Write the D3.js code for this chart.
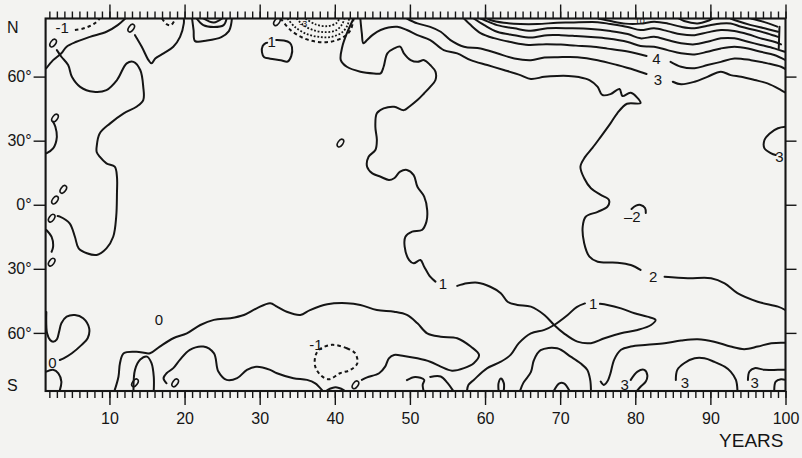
<!DOCTYPE html>
<html>
<head>
<meta charset="utf-8">
<script src="https://d3js.org/d3.v7.min.js"></script>
<style>
  body { margin: 0; background: #f3f3f1; }
  svg { display: block; font-family: "Liberation Sans", Arial, sans-serif; }
  .frame { fill: none; stroke: #151515; stroke-width: 2.1; }
  .axis path { display: none; }
  .axis line { stroke: #151515; stroke-width: 1.4; }
  .axis text { fill: #151515; font-size: 16px; font-family: "Liberation Sans", Arial, sans-serif; }
  .contour { fill: none; stroke: #151515; stroke-width: 2; stroke-linejoin: round; stroke-linecap: round; }
  .neg { stroke-dasharray: 3.5 3; stroke-linecap: butt; }
  .dots { stroke-width: 1.8; stroke-dasharray: 1.8 1.8; stroke-linecap: butt; }
  .oval { fill: none; stroke: #151515; stroke-width: 1.6; }
  .clabel { fill: #151515; font-size: 15px; text-anchor: middle; dominant-baseline: central; }
  .slabel { fill: #151515; font-size: 9px; text-anchor: middle; dominant-baseline: central; }
</style>
</head>
<body>
<svg id="chart" width="802" height="458"></svg>
<script>
// axes
var yearDomain = [1.5, 100]
var latDomain = [-87.2, 87.2]
var yearTicks = [10, 20, 30, 40, 50, 60, 70, 80, 90, 100]
var latTicks = [60, 30, 0, -30, -60]
var latLabels = ["60°", "30°", "0°", "30°", "60°"]

// contour lines, [year, latitude]
var c0NorthWest = [[1.6,63.9],[2.5,67.7],[3.6,70.9],[4.3,74],[5.6,76.3],[7.4,78.6],[9.6,81],[11.1,84.1],[12.1,87.2]]
var c0WestLoop = [[3,72.4],[3.6,69.3],[4.5,65.4],[5,59.9],[6.1,55.2],[7.9,52.9],[9.6,53.7],[11,58.4],[12.3,66.2],[13.2,66.9],[14.1,63.1],[14.5,55.2],[14.5,49],[13.6,45.9],[11.9,42.8],[10.1,38.1],[8.7,33.4],[8.3,27.2],[8.3,24.7],[8.7,22.5],[9.6,19.4],[10.7,17.8],[11,13.1],[11,5.4],[10.9,-5.6],[10.5,-15],[9.6,-20.4],[8.3,-23.5],[7,-22.7],[5.9,-20.4],[5.4,-15],[4.7,-8.7],[3.4,-5.6],[3.1,-5.3]]
var c0West30 = [[1.6,24.1],[2.5,26.4],[3,31.8],[2.8,36.5],[2.5,38.9]]
var c0WestEq = [[1.6,-11.8],[2.3,-15],[2.5,-19.6],[2.3,-22]]
var c0North20 = [[13.4,79.4],[14.3,74],[15.2,67.7],[15.6,66.2],[16.1,68.5],[17.2,70.9],[18.5,74],[19.4,78.6],[19.9,84.9],[19.9,87.2]]
var cNeg1North = [[5.4,81.8],[6.5,82.5],[7.4,83.7],[8.1,85.1],[8.7,87.2]]
var cNeg1NorthSmall = [[17,87.2],[17.6,84.6],[18.2,84.1],[18.8,87.2]]
var cArc1 = [[21,87.2],[21.2,81.8],[21.4,76.6],[23,76.9],[24.9,78.5],[25.9,81.3],[26.2,84.5],[26.3,87.2]]
var cArc2 = [[21.6,87.2],[22.5,84.1],[23.9,83.2],[25.2,84.1],[25.6,87.2]]
var cArc3 = [[22.5,87.2],[23.9,85.3],[25,87.2]]
var c1Island = [[32.2,77.1],[33.2,76.9],[34,75.9],[34.3,73.8],[34.2,69.6],[33.7,67],[32.8,67.7],[31.4,68.4],[30.6,69.1],[30.3,71.5],[30.4,74.3],[30.8,75.7],[31,75.9]]
var bowl1 = [[32.8,87.2],[34.1,81.8],[35.9,77.9],[37.6,76.3],[39.4,76.3],[41.2,78.6],[42.1,81.8],[42.5,87.2]]
var bowl2 = [[33.7,87.2],[34.7,83.2],[36.3,79.9],[38.1,78.5],[39.7,78.7],[41,80.8],[41.7,84.1],[41.9,87.2]]
var bowl3 = [[34.9,87.2],[35.8,84.1],[37.1,81.8],[38.7,80.8],[40.1,81.6],[40.9,84.1],[41.3,87.2]]
var bowl4 = [[36.1,87.2],[37.4,84.5],[39,83.6],[40.2,85],[40.6,87.2]]
var c1Main = [[42.5,87.2],[41.6,80.2],[41,74],[40.8,67.7],[41.6,64.6],[43.4,62.3],[45.2,61.5],[46.1,61.5],[46.5,64.6],[47,70.9],[47.9,73.2],[48.7,74],[49.2,70.9],[50.1,67.7],[51,66.9],[51.9,67.7],[52.7,65.4],[53.4,62.3],[53.4,58.4],[52.7,55.2],[51.9,52.2],[51,49],[49.9,45.9],[49.2,44.3],[47.9,45.9],[46.5,45.1],[45.6,42.8],[45.4,36.5],[45.6,30.3],[45.4,25.6],[44.5,22.5],[44.3,17.8],[45,14.7],[46.1,13.1],[47.2,11.6],[47.9,12.4],[48.7,15.5],[49.6,16.3],[50.5,13.9],[51,8.4],[51.9,3.8],[52.3,-2.5],[52.2,-7.9],[51.6,-11.8],[50.3,-12.6],[49.4,-15],[49.3,-19.6],[49.9,-25.9],[50.5,-27.4],[51.4,-25.9],[51.9,-29],[52.7,-33.7],[53.4,-36]]
var c1Lobe = [[56.3,-38],[57.6,-36.8],[59,-36.5],[60.7,-38.4],[62.1,-41.4],[63,-45.4],[64.3,-46.9],[66.1,-47.7],[67.9,-51.6],[69.2,-56.3],[70.5,-60.2],[72.3,-64.1],[74.1,-64.8],[75.9,-62.5],[78.1,-60.2],[80.3,-58.6],[82.1,-56.3],[82.7,-53.9],[81.6,-52.4],[79.9,-50.8],[78.1,-48.5],[76.3,-46.9],[75.3,-46.4]]
var c1Tail = [[73.3,-46.2],[72.2,-47.9],[71,-51.6],[69.2,-56.3],[67.9,-58.6],[66.1,-60.2],[64.5,-64.8],[63.4,-70.3],[62.1,-73.5],[60.3,-76.5],[58.5,-82],[57.8,-84.3],[57.6,-87]]
var c0South = [[10.7,-86.8],[11.2,-80.5],[11.4,-74.2],[11.9,-69.5],[13.6,-68.8],[15.4,-69.5],[16.7,-66.4],[18.5,-62.5],[20.3,-60.2],[22.1,-56.3],[23.9,-53.9],[26.1,-53.1],[27.9,-51.6],[29.6,-48.5],[31.4,-46.1],[32.3,-47.7],[33.6,-50.1],[35.4,-51.6],[36.7,-49.3],[39,-46.6],[41.6,-46.1],[43.4,-46.9],[45.6,-49.3],[47.9,-50.1],[49.6,-51.6],[51,-55.5],[52.3,-60.2],[54.1,-61.8],[56.3,-62.5],[58.1,-66.4],[59.2,-70.3],[58.5,-74.2],[57.2,-76.5],[55.6,-77.7],[54.1,-75.8],[52.7,-73.5],[51,-71.9],[49.2,-70.8],[47.9,-70.3],[47.2,-71.9],[46.7,-75.8],[45.9,-78.9],[44.3,-80.8],[43.6,-82]]
var c0South2 = [[17.6,-83.6],[17.2,-81.2],[17.6,-78.9],[18.5,-76.5],[19.4,-72.5],[20.7,-67.9],[22.5,-66.4],[23.9,-69.5],[24.5,-78.1],[25.6,-82],[27,-81.2],[28.3,-77.3],[29.6,-75.8],[31.4,-77.3],[32.3,-78.9],[34.5,-81.2],[36.3,-82],[37.4,-83.6],[38.3,-86.8]]
var c0SouthArch = [[13.2,-86.8],[13.4,-77.3],[14.1,-72.5],[15,-71.1],[15.6,-74.2],[15.9,-80.5],[15.9,-86.8]]
var c0SouthWest = [[1.6,-50.2],[1.7,-60.2],[2.1,-63.3],[2.5,-64.1],[3,-63],[3.3,-59.4],[3.6,-55.5],[4.3,-52.4],[5.4,-51.6],[6.5,-53.1],[7.3,-57.8],[7.1,-62.5],[6.3,-65.6],[5,-69.5],[3.9,-71.9],[3.4,-72.7]]
var c0Corner = [[1.6,-78.1],[2.5,-77.3],[3.2,-78.9],[3.6,-82.8],[3.4,-86.8]]
var cNeg1South = [[39.6,-65.6],[41.6,-67.2],[42.7,-69.5],[43,-74.2],[42.1,-77.3],[40.7,-78.9],[39.2,-81.7],[38.1,-79.7],[37.4,-75.8],[37.4,-71.1],[37.9,-67.9]]
var bump1 = [[39,-86.8],[40.1,-85.5],[41.2,-86.8]]
var hook1 = [[49.6,-82.1],[50.7,-80.6],[51.9,-82],[51.7,-84.3],[51.8,-86.8]]
var hook2 = [[52.7,-80.6],[54.1,-80.4],[55,-83.4],[55.7,-86.8]]
var drop1 = [[61.8,-86.8],[61.8,-83.5],[62.1,-81.3],[62.5,-83.5],[62.5,-86.8]]
var bump2 = [[69.2,-86.8],[69.9,-83.6],[70.5,-83.6],[71.2,-86.8]]
var c2South = [[64.7,-86.8],[65.1,-83.4],[66.1,-78.4],[66.5,-72.8],[67.4,-68.1],[69.6,-67.2],[71.4,-71.1],[72.7,-74.2],[73.6,-77.3],[74,-82],[74.1,-86.8]]
var c2SouthLong = [[75.4,-82.8],[75.8,-84.4],[76.1,-83.6],[76.4,-82],[76.7,-78.9],[77.2,-72.5],[78.1,-67.9],[79.4,-66.4],[81.6,-65.6],[83.9,-64.8],[86.1,-63.6],[88.3,-63],[90.5,-64.1],[92.7,-66.4],[94.5,-67.6],[96.3,-66.4],[98.1,-64.8],[100,-64.6]]
var c3Curl = [[79.4,-82],[80.3,-78.1],[81.2,-77.3],[81.6,-79.7],[81.4,-82.8],[80.7,-85.2],[80.3,-86.8]]
var c3Arch = [[85.4,-82],[85.6,-77.3],[86.5,-74.2],[87.9,-71.9],[89.2,-71.9],[90.5,-73.5],[91.9,-75.8],[92.7,-78.1],[93.4,-82],[93.6,-86.8]]
var c3Edge = [[95,-82],[95.2,-78.1],[95.9,-76.5],[97.2,-77.3],[99,-77.3],[100,-77.3]]
var c3Corner = [[98.5,-86.8],[98.7,-82.8],[99.4,-81.7],[100,-82]]
var c2Main = [[43.4,87.2],[43.6,80.2],[43.8,75.6],[44.3,77.1],[45,79.4],[46.1,81.8],[48.3,83.3],[49.6,81.8],[51,79.4],[52.7,77.1],[54.5,72.4],[56.3,70.9],[58.1,67.7],[60.3,65.4],[62.5,63.1],[64.7,60.7],[66.1,58.9],[67.9,59.9],[69.6,60.3],[71.1,60.3],[72.5,59.8],[73.9,58.4],[75,55.2],[75.6,51.4],[76.7,51.8],[77.9,54.2],[78.3,50.9],[79.4,52.4],[80.7,47.6],[78.9,47.3],[77.6,42.8],[76.7,38.1],[75.4,31.8],[74.3,26.6],[73.3,22.3],[72.7,17.8],[73.2,12.4],[74.1,7.7],[75.4,4.6],[76.5,2.2],[76.3,-0.9],[75,-3.3],[73.4,-5.6],[73,-10.3],[73.2,-18],[73.9,-24.3],[75,-26.7],[77.6,-27.1],[79.4,-28.2],[80.7,-30.5]]
var c2MainEnd = [[83.9,-33.7],[87,-34.4],[90.1,-34.4],[91.9,-36.8],[93.6,-41.4],[96.3,-45.4],[99,-47.7],[100,-49.3]]
var c3North = [[49.6,87.2],[51,84.9],[52.7,83.3],[54.1,81],[55.4,77.1],[57.2,74],[59.4,73.2],[61.6,70.9],[63.9,68.5],[66.1,67.7],[67.9,68.9],[69.7,69.1],[72.3,69.1],[75,67.7],[77.6,65.4],[79.9,63.1],[81.5,61.2]]
var c3NorthEnd = [[85,57.6],[86.1,56.4],[87.9,57.6],[89.6,59.9],[91.4,62.3],[92.7,60.7],[94.1,59.9],[95.9,58.4],[97.6,56.8],[99.4,53.7],[100,52.5]]
var c4North = [[57.2,87.2],[58.1,84.1],[59.4,80.4],[61.2,78],[63.4,76.2],[65.8,74.8],[68.1,75.2],[70.1,75],[72.1,74.5],[74.1,74.1],[76.3,73.1],[79,71.7],[81.5,69.6]]
var c4NorthEnd = [[84.7,66.9],[86.1,64.6],[87.9,63.9],[89.6,65.4],[91.4,66.9],[93.2,68.5],[95.4,67.7],[97.6,66.2],[99.4,64.6],[100,63.5]]
var c5North = [[58.5,87.2],[59.9,84.1],[61.6,81],[63.9,79.4],[66.1,78.3],[68.3,79.4],[70.1,79.4],[72.1,79],[74.1,78.5],[76.3,77.8],[79,76.2],[80.7,74.3],[82.5,74],[84.3,72.4],[86.1,70.9],[87.9,70.4],[89.6,71.6],[91.4,73.2],[93.2,74],[95,73.2],[96.7,71.6],[98.5,70.1],[100,67.7]]
var c6North = [[59.4,87.2],[59.9,86.5],[61.6,84.1],[63.9,82.6],[66.1,81.5],[68.3,82.6],[71.4,82.6],[74.1,82.3],[76.7,81.3],[79,79.9],[80.7,77.9],[82.5,78.6],[84.3,77.1],[86.1,75.6],[87.9,75.1],[89.6,76.3],[91.4,77.9],[93.2,77.9],[95,76.3],[96.7,74.8],[98.5,73.2],[99.9,71.6]]
var c7North = [[60.3,87.2],[60.7,86.5],[62.5,85.2],[64.7,84.6],[67,84.6],[69.6,85.2],[71.4,85.3],[75,85.5],[76.7,84.6],[79,83.2],[80.7,81.8],[82.5,82.6],[84.3,81.3],[86.1,79.8],[87.9,79.4],[89.6,80.7],[91.4,81.8],[93.2,81.3],[95,79.8],[96.7,77.9],[98.5,76.3],[99.4,75.1]]
var c8North = [[75.1,87.2],[76.7,86],[78.7,84.8],[80.7,84.8],[82.5,85.7],[84.3,84.9],[86.1,83.3],[87.9,82.6],[89.6,83.8],[91.4,84.9],[92.7,84.9],[94.1,83.3],[95.9,81.8],[97.6,80.2],[99,78.6]]
var c9NorthA = [[85.8,87.2],[86.5,86],[88.3,84.9],[89.6,86],[90.3,87.2]]
var c9NorthB = [[92.7,87.2],[93.6,86],[95.4,84.1],[97.2,82.6],[99,81]]
var c10North = [[95.4,87.2],[97.2,85.5],[98.9,83.4]]
var cEdgeNE = [[99.2,83.3],[99.1,73.2]]
var c3East = [[100,36.5],[99,35.8],[97.9,33.4],[97.2,30.3],[97.2,26.4],[98.1,24.1],[98.7,23.3]]
var cNeg2Arc = [[79.5,-2],[80.1,-0.4],[80.7,-0.1],[81.3,-1.5],[81.4,-3.9]]

// small closed "0" contours
var zeroOvals = [[2.5,75.7],[2.75,40.6],[12.9,82.7],[2.75,2.2],[3.86,7.2],[2.31,-6.3],[2.31,-26.9],[40.75,28.9],[32.3,85.7],[13.4,-83.4],[18.75,-83.4],[42.75,-84.3]]

// contour labels [year, lat, text]
var contourLabels = [
    [3.7,83.2,"-1"], [31.6,76.6,"1"], [54.4,-37.1,"1"], [74.4,-46,"1"],
    [82.4,-33.6,"2"], [83,58.8,"3"], [82.8,68.4,"4"], [99.2,22.8,"3"],
    [79.6,-5.3,"–2"], [16.6,-53.7,"0"], [2.4,-73.8,"0"], [37.5,-65.2,"-1"],
    [86.6,-83,"3"], [95.9,-83,"3"], [78.6,-84,"3"]
]
var smallLabels = [[35.8,84.6,"-3"], [80.6,85.8,"10"]]

var solidLines = [c0NorthWest, c0WestLoop, c0West30, c0WestEq, c0North20, cArc1, cArc2, cArc3,
    c1Island, c1Main, c1Lobe, c1Tail, c0South, c0South2, c0SouthArch, c0SouthWest, c0Corner,
    bump1, hook1, hook2, drop1, bump2, c2South, c2SouthLong, c3Curl, c3Arch, c3Edge, c3Corner,
    c2Main, c2MainEnd, c3North, c3NorthEnd, c4North, c4NorthEnd, c5North, c6North, c7North,
    c8North, c9NorthA, c9NorthB, c10North, cEdgeNE, c3East, cNeg2Arc]
var dashedLines = [cNeg1North, cNeg1NorthSmall, bowl1]
var dottedLines = [bowl2, bowl3, bowl4]
var closedDashed = [cNeg1South]

var svg = d3.select("#chart")

var x = d3.scaleLinear().domain(yearDomain).range([45.6, 785.5])
var y = d3.scaleLinear().domain(latDomain).range([391, 18.5])

svg.append("defs").append("clipPath").attr("id", "plotclip")
    .append("rect")
        .attr("x", x(yearDomain[0])).attr("y", y(latDomain[1]))
        .attr("width", x(yearDomain[1]) - x(yearDomain[0]))
        .attr("height", y(latDomain[0]) - y(latDomain[1]))

var minorYears = d3.range(2, 101)

// bottom axis
svg.append("g").attr("class", "axis")
    .attr("transform", `translate(0,${y(latDomain[0])})`)
    .call(d3.axisBottom(x).tickValues(minorYears).tickSize(7).tickFormat(""))
svg.append("g").attr("class", "axis")
    .attr("transform", `translate(0,${y(latDomain[0])})`)
    .call(d3.axisBottom(x).tickValues(yearTicks).tickSize(14).tickPadding(8))

// top axis
svg.append("g").attr("class", "axis")
    .attr("transform", `translate(0,${y(latDomain[1])})`)
    .call(d3.axisTop(x).tickValues(minorYears).tickSize(7).tickFormat(""))
svg.append("g").attr("class", "axis")
    .attr("transform", `translate(0,${y(latDomain[1])})`)
    .call(d3.axisTop(x).tickValues(yearTicks).tickSize(14).tickFormat(""))

// left / right latitude ticks
svg.append("g").attr("class", "axis")
    .attr("transform", `translate(${x(yearDomain[0])},0)`)
    .call(d3.axisLeft(y).tickValues(latTicks).tickSize(12).tickPadding(2)
        .tickFormat((d, i) => latLabels[i]))
svg.append("g").attr("class", "axis")
    .attr("transform", `translate(${x(yearDomain[1])},0)`)
    .call(d3.axisRight(y).tickValues(latTicks).tickSize(11).tickFormat(""))

svg.append("text").attr("x", 7).attr("y", y(latDomain[1]) + 14)
    .attr("font-size", 16).attr("fill", "#151515").text("N")
svg.append("text").attr("x", 7).attr("y", y(latDomain[0]))
    .attr("font-size", 16).attr("fill", "#151515").text("S")
svg.append("text").attr("x", x(yearDomain[1]) - 2).attr("y", 447)
    .attr("text-anchor", "end").attr("font-size", 19).attr("fill", "#151515")
    .text("YEARS")

var plot = svg.append("g").attr("clip-path", "url(#plotclip)")

var line = d3.line()
    .x(d => x(d[0]))
    .y(d => y(d[1]))
    .curve(d3.curveCatmullRom.alpha(0.5))

var closedLine = d3.line()
    .x(d => x(d[0]))
    .y(d => y(d[1]))
    .curve(d3.curveCatmullRomClosed.alpha(0.5))

plot.selectAll("path.solid").data(solidLines).join("path")
    .attr("class", "contour solid").attr("d", line)
plot.selectAll("path.dashed").data(dashedLines).join("path")
    .attr("class", "contour neg dashed").attr("d", line)
plot.selectAll("path.dotted").data(dottedLines).join("path")
    .attr("class", "contour dots dotted").attr("d", line)
plot.selectAll("path.closed").data(closedDashed).join("path")
    .attr("class", "contour neg closed").attr("d", closedLine)

plot.selectAll("ellipse").data(zeroOvals).join("ellipse")
    .attr("class", "oval")
    .attr("rx", 2.5).attr("ry", 4.3)
    .attr("transform", d => `translate(${x(d[0])},${y(d[1])}) rotate(35)`)

svg.selectAll("text.clabel").data(contourLabels).join("text")
    .attr("class", "clabel")
    .attr("x", d => x(d[0])).attr("y", d => y(d[1]))
    .text(d => d[2])
svg.selectAll("text.slabel").data(smallLabels).join("text")
    .attr("class", "slabel")
    .attr("x", d => x(d[0])).attr("y", d => y(d[1]))
    .text(d => d[2])

svg.append("rect").attr("class", "frame")
    .attr("x", x(yearDomain[0])).attr("y", y(latDomain[1]))
    .attr("width", x(yearDomain[1]) - x(yearDomain[0]))
    .attr("height", y(latDomain[0]) - y(latDomain[1]))
</script>
</body>
</html>
